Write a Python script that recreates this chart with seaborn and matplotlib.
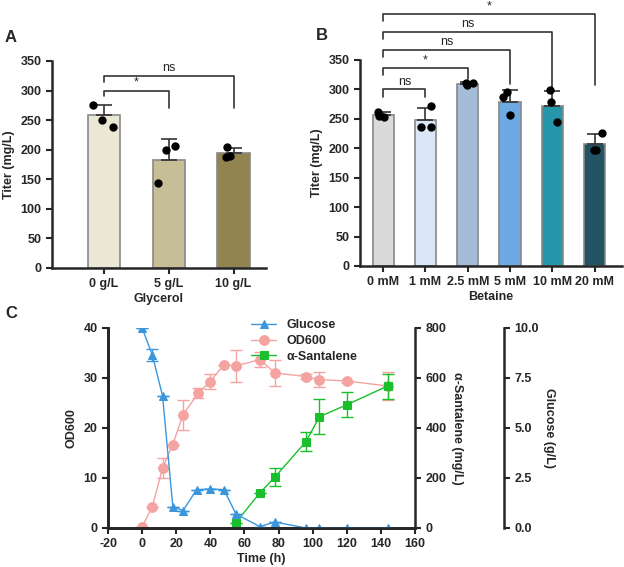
import matplotlib
matplotlib.use('Agg')
import matplotlib.pyplot as plt
import seaborn as sns
import numpy as np
import pandas as pd

sns.set_theme(style="ticks")
plt.rcParams['font.family'] = ['Liberation Sans', 'DejaVu Sans']
plt.rcParams['font.weight'] = 'bold'
plt.rcParams['axes.labelweight'] = 'bold'
plt.rcParams['axes.linewidth'] = 1.8
plt.rcParams['axes.unicode_minus'] = False

# Panel A
glyc_cats = ['0 g/L', '5 g/L', '10 g/L']
glyc_mean = [258, 183, 194]
glyc_sd = [18, 35, 9]
glyc_pts = [[276, 250, 238], [207, 200, 144], [204, 187, 190]]
glyc_colors = ['#F0EAD2', '#CEC38E', '#9C8B45']

# Panel B
bet_cats = ['0 mM', '1 mM', '2.5 mM', '5 mM', '10 mM', '20 mM']
bet_mean = [256, 248, 310, 279, 272, 208]
bet_sd = [6, 20, 2, 20, 26, 17]
bet_pts = [[262, 254, 255], [271, 237, 237], [308, 311, 311],
           [295, 287, 256], [299, 278, 244], [226, 197, 197]]
bet_colors = ['#DADADA', '#D6E6FB', '#9DBBE0', '#5AA9F5', '#10A5C0', '#16596E']

# Panel C
t_glc = [0, 6, 12, 18, 24, 32, 40, 48, 55, 69, 78, 96, 104, 120, 144]
glc = [10.0, 8.65, 6.6, 1.07, 0.87, 1.92, 1.95, 1.92, 0.7, 0.07, 0.3, 0.0, 0.0, 0.0, 0.0]
glc_err = [0, 0.3, 0, 0, 0, 0, 0, 0, 0, 0, 0, 0, 0, 0, 0]
t_od = [0, 6, 12, 18, 24, 33, 40, 48, 55, 69, 78, 96, 104, 120, 144]
od = [0.2, 4.3, 12.0, 16.7, 22.7, 27.0, 29.3, 32.7, 32.4, 33.7, 31.0, 30.3, 29.7, 29.4, 28.4]
od_err = [0, 0, 2.0, 0, 3.0, 1.0, 1.5, 0, 3.2, 1.5, 2.6, 0.5, 1.5, 0.3, 2.8]
t_san = [55, 69, 78, 96, 104, 120, 144]
san = [22, 140, 205, 345, 445, 493, 568]
san_err = [0, 0, 35, 38, 70, 50, 50]

fig = plt.figure(figsize=(6.24, 5.67), dpi=100)
W, H = 624, 567


def add_ax(x0, y_bottom, w, h):
    return fig.add_axes([x0 / W, 1 - y_bottom / H, w / W, h / H])


def bar_panel(ax, cats, means, sds, pts, colors, xlabel):
    sns.barplot(x=cats, y=means, hue=cats, palette=colors, legend=False, ax=ax,
                width=0.5, edgecolor='#888888', linewidth=1.2)
    x = np.arange(len(cats))
    ax.errorbar(x, means, yerr=[np.zeros(len(cats)), sds], fmt='none',
                ecolor='#333333', elinewidth=1.2, capsize=6, capthick=1.2)
    rows = [(c, v) for c, p in zip(cats, pts) for v in p]
    df = pd.DataFrame(rows, columns=['cat', 'val'])
    sns.stripplot(data=df, x='cat', y='val', order=cats, color='black', size=6,
                  jitter=0.18, ax=ax)
    ax.set_ylim(0, 350)
    ax.set_yticks(range(0, 351, 50))
    ax.set_ylabel('Titer (mg/L)', fontsize=9)
    ax.set_xlabel(xlabel, fontsize=9, labelpad=2)
    ax.tick_params(labelsize=9, width=1.5, length=4)
    ax.set_xlim(-0.8, len(cats) - 0.5)
    sns.despine(ax=ax)


def bracket(ax, x1, x2, y, y1, y2, text):
    ax.plot([x1, x1, x2, x2], [y1, y, y, y2], color='#333333', lw=1.2, clip_on=False)
    ax.text((x1 + x2) / 2, y + 3, text, ha='center', va='bottom', fontsize=9,
            fontweight='normal', clip_on=False)


axA = add_ax(52, 268, 214, 207)
bar_panel(axA, glyc_cats, glyc_mean, glyc_sd, glyc_pts, glyc_colors, 'Glycerol')
bracket(axA, 0, 1, 300, 290, 270, '*')
bracket(axA, 0, 2, 325, 315, 270, 'ns')
fig.text(5 / W, 1 - 38 / H, 'A', fontsize=12, fontweight='bold', va='center')

axB = add_ax(360, 266, 262, 206)
bar_panel(axB, bet_cats, bet_mean, bet_sd, bet_pts, bet_colors, 'Betaine')
axB.set_xlim(-0.55, 5.65)
bracket(axB, 0, 1, 300, 287, 287, 'ns')
bracket(axB, 0, 2, 336, 324, 318, '*')
bracket(axB, 0, 3, 367, 355, 310, 'ns')
bracket(axB, 0, 4, 398, 386, 302, 'ns')
bracket(axB, 0, 5, 428, 416, 307, '*')
fig.text(316 / W, 1 - 36 / H, 'B', fontsize=12, fontweight='bold', va='center')

# Panel C
axC = add_ax(108, 528, 307, 200)
axS = axC.twinx()
axG = axC.twinx()
axG.spines['right'].set_position(('outward', 64))

sns.lineplot(x=t_od, y=od, ax=axC, color='#F4A3A0', marker='o', markersize=7,
             markeredgecolor='#F4A3A0', lw=1, label='OD600', legend=False)
axC.errorbar(t_od, od, yerr=od_err, fmt='none', ecolor='#F4A3A0', capsize=4, elinewidth=1)
sns.lineplot(x=t_san, y=san, ax=axS, color='#19C02B', marker='s', markersize=6,
             markeredgecolor='#19C02B', lw=1, label='α-Santalene', legend=False)
axS.errorbar(t_san, san, yerr=san_err, fmt='none', ecolor='#19C02B', capsize=4, elinewidth=1)
sns.lineplot(x=t_glc, y=glc, ax=axG, color='#3A96DD', marker='^', markersize=6,
             markeredgecolor='#3A96DD', lw=1, label='Glucose', legend=False)
axG.errorbar(t_glc, glc, yerr=glc_err, fmt='none', ecolor='#3A96DD', capsize=4, elinewidth=1)

axC.set_xlim(-20, 160)
axC.set_xticks(range(-20, 161, 20))
axC.set_ylim(0, 40)
axC.set_yticks(range(0, 41, 10))
axS.set_ylim(0, 800)
axS.set_yticks(range(0, 801, 200))
axG.set_ylim(0, 10)
axG.set_yticks([0, 2.5, 5, 7.5, 10])
axG.set_yticklabels(['0.0', '2.5', '5.0', '7.5', '10.0'])
axC.set_xlabel('Time (h)', fontsize=9, labelpad=2)
axC.set_ylabel('OD600', fontsize=9)
axS.set_ylabel('α-Santalene (mg/L)', fontsize=9, rotation=270, labelpad=12)
axG.set_ylabel('Glucose (g/L)', fontsize=9, rotation=270, labelpad=12)
for a in (axC, axS, axG):
    a.tick_params(labelsize=9, width=1.5, length=4)
    a.spines['top'].set_visible(False)
axC.spines['right'].set_visible(False)

handles = [axG.get_lines()[0], axC.get_lines()[0], axS.get_lines()[0]]
axC.legend(handles, ['Glucose', 'OD600', 'α-Santalene'], loc='upper left',
           bbox_to_anchor=(0.43, 1.1), frameon=False, fontsize=9, handlelength=2,
           labelspacing=0.3)
fig.text(5 / W, 1 - 313 / H, 'C', fontsize=12, fontweight='bold', va='center')

fig.savefig('out.png', dpi=100, facecolor='white')
